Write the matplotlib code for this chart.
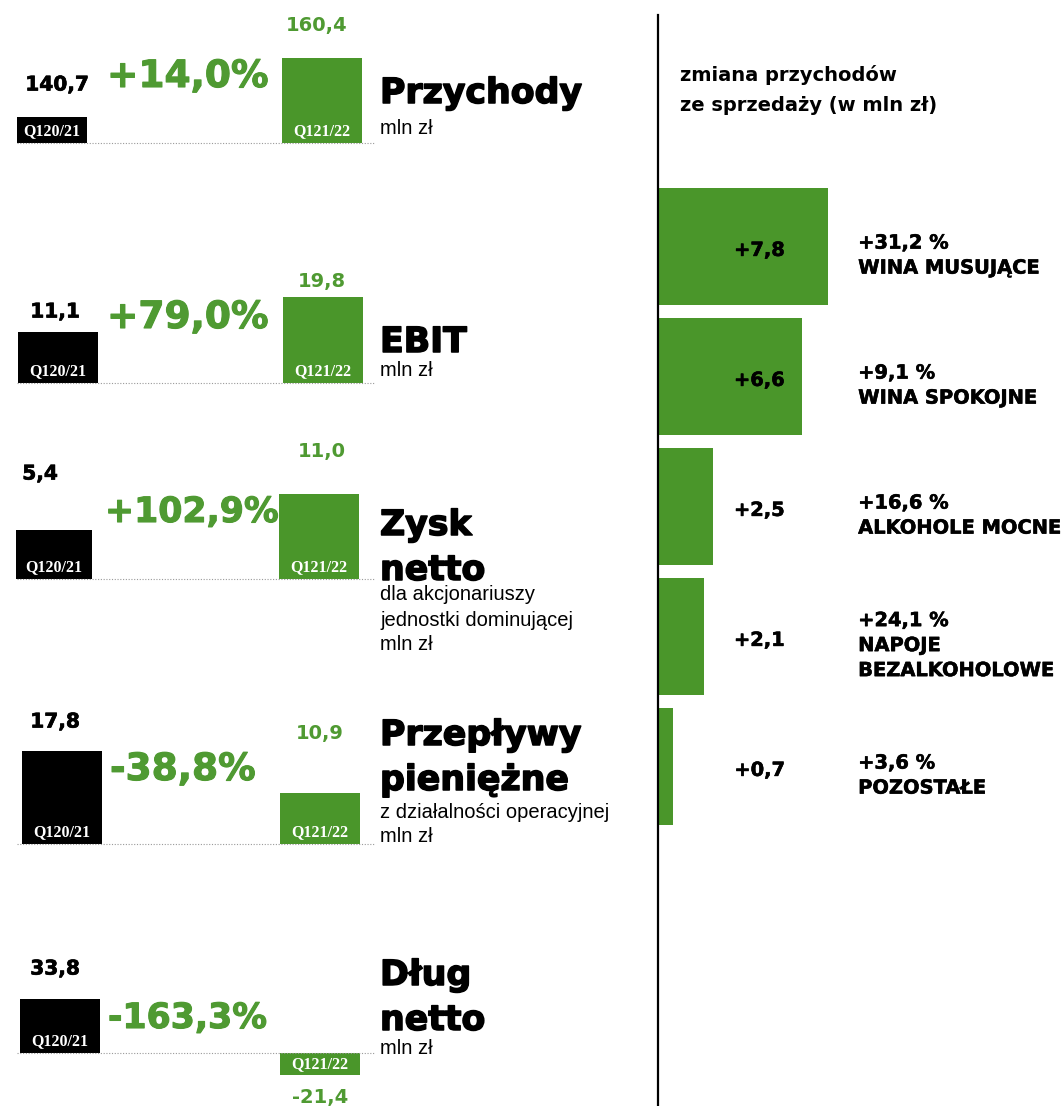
import matplotlib.pyplot as plt
import matplotlib.patheffects as pe

# --- data ---
metrics = [['Przychody'], ['EBIT'], ['Zysk', 'netto'], ['Przepływy', 'pieniężne'], ['Dług', 'netto']]
subtitles = [['mln zł'], ['mln zł'], ['dla akcjonariuszy', 'jednostki dominującej', 'mln zł'],
             ['z działalności operacyjnej', 'mln zł'], ['mln zł']]
q_prev = [140.7, 11.1, 5.4, 17.8, 33.8]
q_curr = [160.4, 19.8, 11.0, 10.9, -21.4]
change_pct = [14.0, 79.0, 102.9, -38.8, -163.3]
period_labels = ['Q120/21', 'Q121/22']

segments = ['WINA MUSUJĄCE', 'WINA SPOKOJNE', 'ALKOHOLE MOCNE', 'NAPOJE\nBEZALKOHOLOWE', 'POZOSTAŁE']
seg_change = [7.8, 6.6, 2.5, 2.1, 0.7]
seg_pct = [31.2, 9.1, 16.6, 24.1, 3.6]
right_title = 'zmiana przychodów\nze sprzedaży (w mln zł)'

# --- layout (pixels) ---
W, H = 1064, 1106
baselines = [143, 383, 579, 844, 1053]
# each panel has its own truncated scale: (value at baseline, px per unit)
scales = [(132.0, 3.0), (-1.6, 4.02), (-2.2, 6.43), (2.5, 6.09), (-5.4, 1.38)]
black_x = [52, 58, 54, 62, 60]
black_w = [70, 80, 76, 80, 80]
green_x = [322, 323, 319, 320, 320]
prev_lbl = [(57, 85), (55, 312), (40, 474), (55, 722), (55, 969)]
curr_lbl = [(317, 26), (322, 282), (322, 452), (320, 733), (320, 1097)]
pct_pos = [(107, 77), (107, 318), (105, 512), (110, 770), (108, 1018)]
pct_size = [27, 27, 25, 27, 25]
title_y = [103, 352, 535, 745, 985]
sub_y = [128, 370, 595, 812, 1049]

GREEN = '#4a962a'
GREEN_TXT = '#4f9a32'
BOLD = 'DejaVu Sans'
SERIF = 'Liberation Serif'


def fmt(v, sign=False):
    s = f'{v:+.1f}' if sign else f'{v:.1f}'
    return s.replace('.', ',')


def heavy(color, w=1.0):
    return [pe.withStroke(linewidth=w, foreground=color)]


fig = plt.figure(figsize=(W / 100, H / 100), dpi=100)
ov = fig.add_axes([0, 0, 1, 1])
ov.set_xlim(0, W)
ov.set_ylim(H, 0)
ov.axis('off')
ov.set_zorder(10)
ov.patch.set_alpha(0)

for i in range(5):
    b = baselines[i]
    base, k = scales[i]
    up, down = 120, 40
    ax = fig.add_axes([0, 1 - (b + down) / H, 1, (up + down) / H])
    ax.set_xlim(0, W)
    ax.set_ylim(base - down / k, base + up / k)
    ax.axis('off')
    ax.patch.set_alpha(0)
    ax.bar([black_x[i], green_x[i]], [q_prev[i] - base, q_curr[i] - base], bottom=base,
           width=[black_w[i], 80], color=['black', GREEN], zorder=2)

    # period labels inside the boxes
    ov.text(black_x[i], b - 12, period_labels[0], color='white', fontsize=11.5,
            family=SERIF, weight='bold', ha='center', va='center')
    dv = q_curr[i] - base
    qy = b - 12 if dv > 0 else b - dv * k - 11
    ov.text(green_x[i], qy, period_labels[1], color='white', fontsize=11.5,
            family=SERIF, weight='bold', ha='center', va='center')

    # dotted baseline
    ov.plot([17, 375], [b, b], color='#9a9a9a', lw=0.8, ls=(0, (1, 1.5)), zorder=1)

    # values
    ov.text(*prev_lbl[i], fmt(q_prev[i]), fontsize=14.5, weight='bold', family=BOLD,
            ha='center', va='center', color='black', path_effects=heavy('black', 0.5))
    ov.text(*curr_lbl[i], fmt(q_curr[i]), fontsize=14, weight='bold', family=BOLD,
            ha='center', va='center', color=GREEN_TXT)

    # change
    ov.text(*pct_pos[i], fmt(change_pct[i], sign=change_pct[i] > 0) + '%', fontsize=pct_size[i],
            weight='bold', family=BOLD, ha='left', va='center', color=GREEN_TXT,
            path_effects=heavy(GREEN_TXT, 0.8))

    # title + subtitle
    for j, line in enumerate(metrics[i]):
        ov.text(380, title_y[i] + 45 * j, line, fontsize=25, weight='bold', family=BOLD,
                ha='left', va='baseline', color='black', path_effects=heavy('black', 1.1))
    for j, line in enumerate(subtitles[i]):
        ov.text(380, sub_y[i] + 25 * j, line, fontsize=14.5, family='Liberation Sans',
                ha='left', va='center', color='black')

# --- right panel ---
ov.plot([658, 658], [15, H], color='black', lw=1.6)
ov.text(680, 90, right_title, fontsize=14, weight='bold', family=BOLD, ha='left',
        va='center', linespacing=1.75)

px_per_unit = 21.8
top = 181.5
pitch = 130
rax = fig.add_axes([658 / W, 1 - (top + 5 * pitch) / H, (W - 658) / W, 5 * pitch / H])
rax.set_xlim(0, (W - 658) / px_per_unit)
rax.set_ylim(4.5, -0.5)
rax.axis('off')
rax.patch.set_alpha(0)
rax.barh(range(5), seg_change, height=0.9, color=GREEN)
tr = rax.get_yaxis_transform()
for i in range(5):
    rax.text(0.313, i + 0.03, fmt(seg_change[i], sign=True), transform=tr, fontsize=14,
             weight='bold', family=BOLD, ha='right', va='center',
             path_effects=heavy('black', 0.4))
    rax.text(0.493, i + 0.07, fmt(seg_pct[i], sign=True) + ' %\n' + segments[i], transform=tr,
             fontsize=14, weight='bold', family=BOLD, ha='left', va='center',
             linespacing=1.4, path_effects=heavy('black', 0.4))

fig.savefig('out.png', dpi=100)
